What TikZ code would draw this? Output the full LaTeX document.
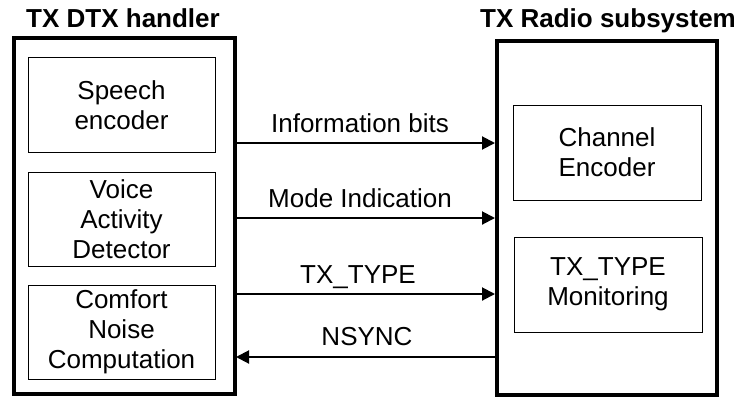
\documentclass[tikz,border=0pt]{standalone}
\usepackage{fontspec}
\setmainfont{Liberation Sans}
\usetikzlibrary{arrows.meta}
\begin{document}
\begin{tikzpicture}[x=1pt,y=-1pt,
  outer/.style={draw,line width=4pt},
  inner/.style={draw,line width=0.8pt},
  lbl/.style={font=\fontsize{26}{30}\selectfont,align=center,inner sep=0pt},
  ttl/.style={font=\fontsize{26}{30}\selectfont\bfseries,inner sep=0pt,anchor=base},
  sig/.style={line width=2pt,-{Triangle[length=13pt,width=13pt]}},
  siglbl/.style={font=\fontsize{26}{30}\selectfont,inner sep=0pt,anchor=base}]
\useasboundingbox (0,0) rectangle (739,400);
% outer boxes
\draw[outer] (14,38) rectangle (235,394);
\draw[outer] (497,41) rectangle (717,395);
% titles
\node[ttl] (t1) at (123,27) {TX DTX handler};
\node[ttl] (t2) at (608,27) {TX Radio subsystem};
% left inner boxes
\draw[inner] (28,57) rectangle (215,152);
\node[lbl] (se) at (121.5,105) {Speech\\encoder};
\draw[inner] (28,172) rectangle (215,266);
\node[lbl] (vad) at (121.5,219) {Voice\\Activity\\Detector};
\draw[inner] (28,285) rectangle (215,379);
\node[lbl] (cn) at (121.5,332) {Comfort\\Noise\\Computation};
% right inner boxes
\draw[inner] (513,105) rectangle (701,200);
\node[lbl] (ce) at (607,152.5) {Channel\\Encoder};
\draw[inner] (514,237) rectangle (702,332);
\node[lbl] (tm) at (608,284.5) {TX\_TYPE\\Monitoring};
% signals
\coordinate (a1) at (236,143); \coordinate (b1) at (495,143);
\coordinate (a2) at (236,218); \coordinate (b2) at (495,218);
\coordinate (a3) at (236,294); \coordinate (b3) at (495,294);
\coordinate (a4) at (236,357); \coordinate (b4) at (497,357);
\draw[sig] (a1) -- (b1);
\draw[sig] (a2) -- (b2);
\draw[sig] (a3) -- (b3);
\draw[sig] (b4) -- (a4);
\node[siglbl] (l1) at (360,132) {Information bits};
\node[siglbl] (l2) at (360,207) {Mode Indication};
\node[siglbl] (l3) at (358,283) {TX\_TYPE};
\node[siglbl] (l4) at (367,345) {NSYNC};
\end{tikzpicture}
\end{document}
